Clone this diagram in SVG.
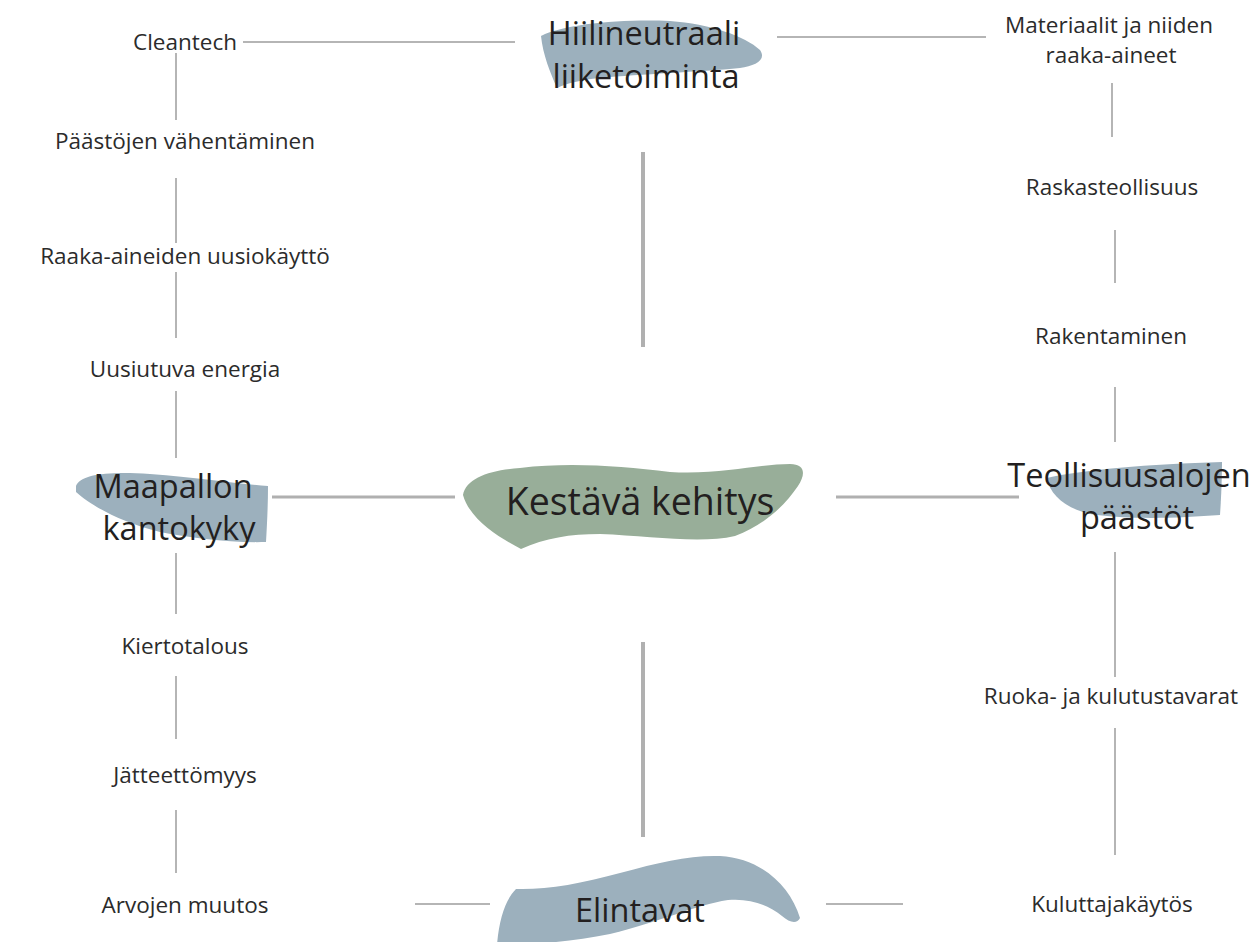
<svg xmlns="http://www.w3.org/2000/svg" width="1255" height="942" viewBox="0 0 1255 942">
  <style>
    .bg { fill: #ffffff; }
    .thin { stroke: #b5b5b5; stroke-width: 2; fill: none; }
    .mid { stroke: #b0b0b0; stroke-width: 3; fill: none; }
    .thick { stroke: #b0b0b0; stroke-width: 4; fill: none; }
    .blob { fill: #9cb0bd; }
    .core { fill: #98ae99; }
    .lbl { font-family: "Open Sans", "Noto Sans", sans-serif; font-size: 22.5px; fill: #2b2b2b; text-anchor: middle; }
    .big { font-family: "Open Sans", "Noto Sans", sans-serif; font-size: 32.5px; fill: #231f20; text-anchor: middle; }
    .hub { font-family: "Open Sans", "Noto Sans", sans-serif; font-size: 37.5px; fill: #231f20; text-anchor: middle; }
  </style>
  <rect class="bg" x="0" y="0" width="1255" height="942"/>

  <!-- connectors -->
  <g id="connectors">
    <!-- top row -->
    <line class="thin" x1="243" y1="42" x2="515" y2="42"/>
    <line class="thin" x1="777" y1="37" x2="986" y2="37"/>
    <!-- left column -->
    <line class="thin" x1="176" y1="53" x2="176" y2="120"/>
    <line class="thin" x1="176" y1="178" x2="176" y2="243"/>
    <line class="thin" x1="176" y1="272" x2="176" y2="338"/>
    <line class="thin" x1="176" y1="391" x2="176" y2="458"/>
    <line class="thin" x1="176" y1="553" x2="176" y2="614"/>
    <line class="thin" x1="176" y1="676" x2="176" y2="739"/>
    <line class="thin" x1="176" y1="810" x2="176" y2="873"/>
    <!-- right column -->
    <line class="thin" x1="1112" y1="83" x2="1112" y2="137"/>
    <line class="thin" x1="1115" y1="230" x2="1115" y2="283"/>
    <line class="thin" x1="1115" y1="387" x2="1115" y2="442"/>
    <line class="thin" x1="1115" y1="552" x2="1115" y2="677"/>
    <line class="thin" x1="1115" y1="728" x2="1115" y2="855"/>
    <!-- centre cross -->
    <line class="thick" x1="643" y1="152" x2="643" y2="347"/>
    <line class="thick" x1="643" y1="642" x2="643" y2="837"/>
    <line class="mid" x1="272" y1="497" x2="455" y2="497"/>
    <line class="mid" x1="836" y1="497" x2="1019" y2="497"/>
    <!-- bottom row -->
    <line class="thin" x1="415" y1="904" x2="490" y2="904"/>
    <line class="thin" x1="826" y1="904" x2="903" y2="904"/>
  </g>

  <!-- main nodes -->
  <g id="node-hiilineutraali">
    <path class="blob" d="M541,36 C565,24 620,19 670,21 C710,24 745,36 760,50 C767,60 755,66 740,68 C700,72 640,74 600,78 C580,80 565,84 557,88 C550,72 543,55 541,36 Z"/>
    <text class="big" x="644" y="45">Hiilineutraali</text>
    <text class="big" x="646" y="88">liiketoiminta</text>
  </g>

  <g id="node-kestava">
    <path class="core" d="M463,495 C466,478 490,470 520,468 C570,462 620,466 670,472 C720,475 760,464 790,464 C805,464 806,474 798,486 C785,505 765,525 735,536 C700,544 650,536 600,534 C570,534 545,538 521,549 C500,538 470,520 463,495 Z"/>
    <text class="hub" x="640" y="515">Kestävä kehitys</text>
  </g>

  <g id="node-maapallon">
    <path class="blob" d="M76,486 C80,474 110,471 150,474 C200,478 240,484 268,486 C268,505 267,525 266,542 C230,543 190,538 160,532 C120,522 90,505 76,492 Z"/>
    <text class="big" x="173" y="498">Maapallon</text>
    <text class="big" x="179" y="540">kantokyky</text>
  </g>

  <g id="node-teollisuus">
    <path class="blob" d="M1047,478 C1080,470 1150,464 1222,462 C1222,480 1221,500 1220,515 C1180,518 1130,520 1090,514 C1065,508 1050,495 1047,478 Z"/>
    <text class="big" x="1129" y="487">Teollisuusalojen</text>
    <text class="big" x="1137" y="529">päästöt</text>
  </g>

  <g id="node-elintavat">
    <path class="blob" d="M497,945 C499,920 505,900 516,889 C545,890 580,884 620,873 C660,862 690,855 720,856 C760,858 790,885 800,918 C797,924 790,923 782,916 C768,905 750,898 728,900 C695,905 660,922 610,934 C570,942 530,945 497,945 Z"/>
    <text class="big" x="640" y="922">Elintavat</text>
  </g>

  <!-- left column items -->
  <g id="node-cleantech"><text class="lbl" x="185" y="50">Cleantech</text></g>
  <g id="node-paastojen"><text class="lbl" x="185" y="149">Päästöjen vähentäminen</text></g>
  <g id="node-raaka-aineiden"><text class="lbl" x="185" y="264">Raaka-aineiden uusiokäyttö</text></g>
  <g id="node-uusiutuva"><text class="lbl" x="185" y="377">Uusiutuva energia</text></g>
  <g id="node-kiertotalous"><text class="lbl" x="185" y="654">Kiertotalous</text></g>
  <g id="node-jatteettomyys"><text class="lbl" x="185" y="783">Jätteettömyys</text></g>
  <g id="node-arvojen"><text class="lbl" x="185" y="913">Arvojen muutos</text></g>

  <!-- right column items -->
  <g id="node-materiaalit">
    <text class="lbl" x="1109" y="33">Materiaalit ja niiden</text>
    <text class="lbl" x="1111" y="63">raaka-aineet</text>
  </g>
  <g id="node-raskasteollisuus"><text class="lbl" x="1112" y="195">Raskasteollisuus</text></g>
  <g id="node-rakentaminen"><text class="lbl" x="1111" y="344">Rakentaminen</text></g>
  <g id="node-ruoka"><text class="lbl" x="1111" y="704">Ruoka- ja kulutustavarat</text></g>
  <g id="node-kuluttajakaytos"><text class="lbl" x="1112" y="912">Kuluttajakäytös</text></g>
</svg>
